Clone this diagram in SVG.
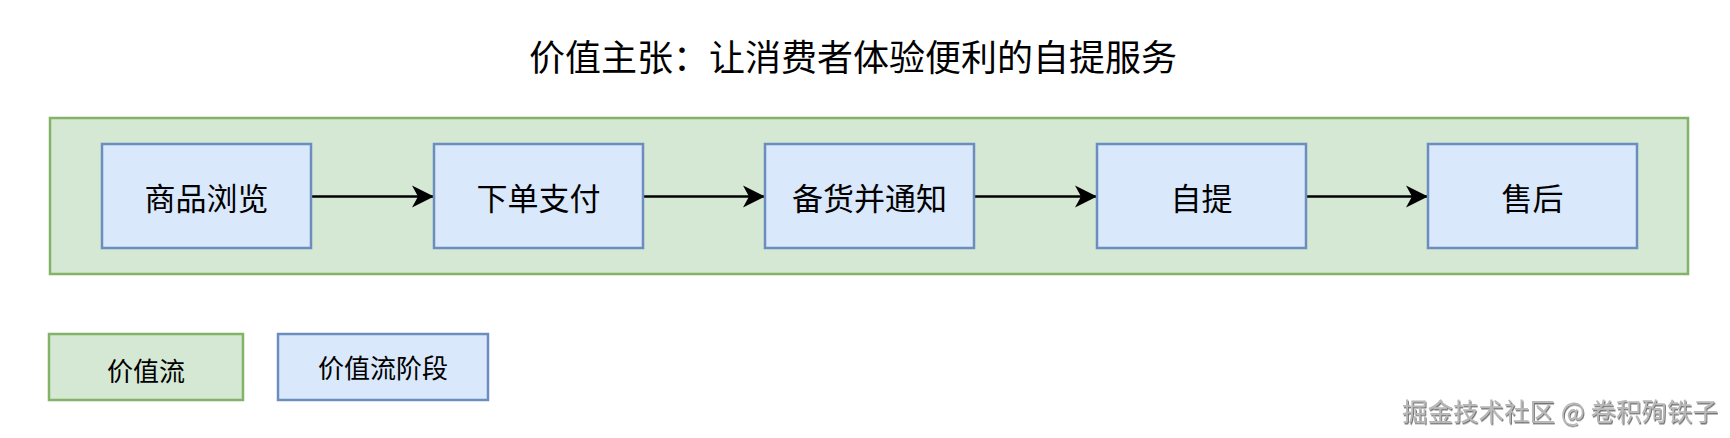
<svg xmlns="http://www.w3.org/2000/svg" width="1730" height="438" viewBox="0 0 1730 438">
<style>
text{font-family:"Noto Sans CJK SC","Noto Sans",sans-serif;text-anchor:middle;dominant-baseline:central;fill:#000}
.stream{fill:#d5e8d4;stroke:#82b366;stroke-width:2.5}
.stage{fill:#dae8fc;stroke:#6c8ebf;stroke-width:2.5}
.node{font-size:31px}
.leg{font-size:26px}
.edge{stroke:#000;stroke-width:2.5;fill:none;marker-end:url(#arr)}
.wm{font-size:25.5px;fill:#b8b8b8;text-anchor:start;filter:url(#sh)}
</style>
<defs>
<marker id="arr" viewBox="0 0 24 24" markerWidth="24" markerHeight="24" refX="22" refY="12" orient="auto" markerUnits="userSpaceOnUse">
<path d="M0,1 L22,12 L0,23 L6,12 Z" fill="#000"/>
</marker>
<filter id="sh" x="-5%" y="-30%" width="110%" height="160%">
<feDropShadow dx="1" dy="1.5" stdDeviation="0.6" flood-color="#555" flood-opacity="0.8"/>
</filter>
</defs>
<rect width="1730" height="438" fill="#fff"/>
<g id="title"><text x="853" y="55" style="font-size:36px">价值主张：让消费者体验便利的自提服务</text></g>
<g id="valuestream"><rect class="stream" x="50" y="118" width="1638" height="156"/></g>
<g id="connectors">
<line class="edge" x1="311" y1="196.5" x2="434" y2="196.5"/>
<line class="edge" x1="643" y1="196.5" x2="765" y2="196.5"/>
<line class="edge" x1="974" y1="196.5" x2="1097" y2="196.5"/>
<line class="edge" x1="1306" y1="196.5" x2="1428" y2="196.5"/>
</g>
<g id="n1"><rect class="stage" x="102" y="144" width="209" height="104"/><text class="node" x="206.5" y="196">商品浏览</text></g>
<g id="n2"><rect class="stage" x="434" y="144" width="209" height="104"/><text class="node" x="538.5" y="196">下单支付</text></g>
<g id="n3"><rect class="stage" x="765" y="144" width="209" height="104"/><text class="node" x="869.5" y="196">备货并通知</text></g>
<g id="n4"><rect class="stage" x="1097" y="144" width="209" height="104"/><text class="node" x="1201.5" y="196">自提</text></g>
<g id="n5"><rect class="stage" x="1428" y="144" width="209" height="104"/><text class="node" x="1532.5" y="196">售后</text></g>
<g id="legend-stream"><rect class="stream" x="49" y="334" width="194" height="66"/><text class="leg" x="146" y="369">价值流</text></g>
<g id="legend-stage"><rect class="stage" x="278" y="334" width="210" height="66"/><text class="leg" x="383" y="366">价值流阶段</text></g>
<g id="watermark"><text class="wm" x="1402" y="409">掘金技术社区 @ 卷积殉铁子</text></g>
</svg>
